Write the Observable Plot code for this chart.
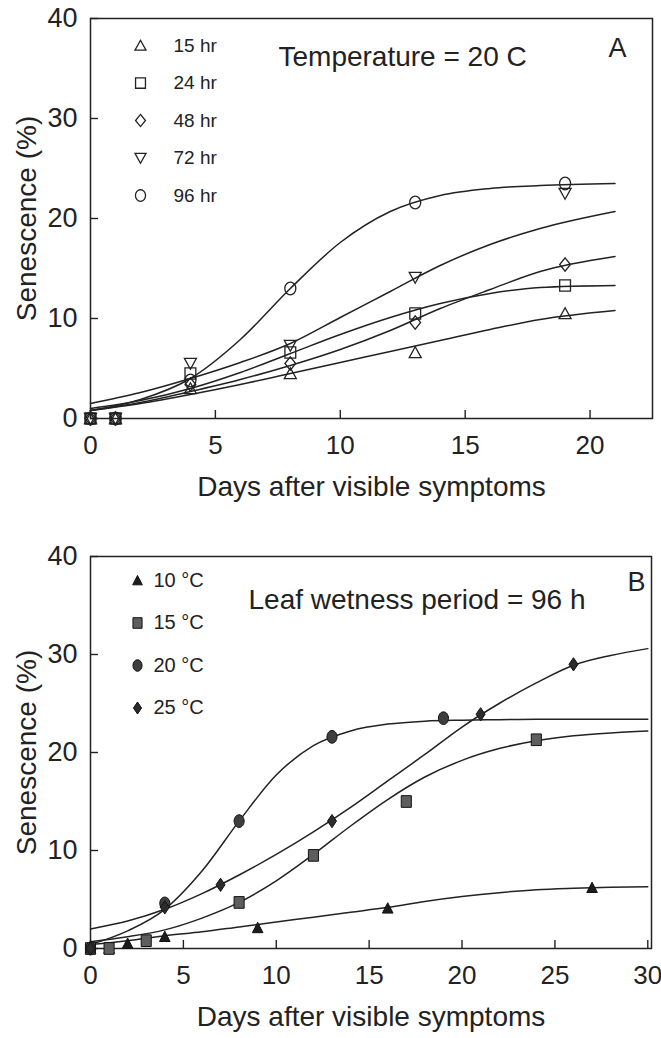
<!DOCTYPE html>
<html>
<head>
<meta charset="utf-8">
<script src="https://cdn.jsdelivr.net/npm/d3@7"></script>
<script src="https://cdn.jsdelivr.net/npm/@observablehq/plot@0.6"></script>
<style>
  html, body { margin: 0; padding: 0; background: #fff; }
  #chart svg { display: block; }
</style>
</head>
<body>
<div id="chart"></div>
<script>
// ---- Panel A: leaf wetness duration, temperature = 20 C ----
const wetnessA = ["15 hr", "24 hr", "48 hr", "72 hr", "96 hr"];
const obsDaysA = [0, 1, 4, 8, 13, 19];
const obs15hr = [0, 0, 3.0, 4.5, 6.6, 10.5];
const obs24hr = [0, 0, 4.5, 6.6, 10.5, 13.3];
const obs48hr = [0, 0, 3.4, 5.5, 9.6, 15.4];
const obs72hr = [0, 0, 5.5, 7.3, 14.1, 22.5];
const obs96hr = [0, 0, 3.8, 13.0, 21.6, 23.5];

const fitDaysA = [0, 2, 4, 6, 8, 10, 12, 14, 16, 18, 21];
const fit15hr = [0.8, 1.5, 2.4, 3.4, 4.5, 5.6, 6.7, 7.8, 8.9, 9.9, 10.8];
const fit24hr = [1.0, 1.8, 3.0, 4.6, 6.5, 8.4, 10.1, 11.5, 12.5, 13.1, 13.3];
const fit48hr = [0.8, 1.6, 2.7, 3.9, 5.3, 6.9, 8.8, 11.0, 12.9, 14.7, 16.2];
const fit72hr = [1.5, 2.6, 4.0, 5.6, 7.5, 10.1, 12.7, 15.3, 17.4, 19.0, 20.7];
const fit96hr = [0.8, 1.9, 4.0, 7.9, 13.0, 17.6, 20.7, 22.3, 23.0, 23.3, 23.5];

const ticksXA = [0, 5, 10, 15, 20];

// ---- Panel B: temperature, leaf wetness period = 96 h ----
const tempsB = ["10 °C", "15 °C", "20 °C", "25 °C"];
const obsDays10C = [0, 1, 2, 4, 9, 16, 27];
const obs10C = [0, 0, 0.5, 1.2, 2.1, 4.1, 6.2];
const obsDays15C = [0, 1, 3, 8, 12, 17, 24];
const obs15C = [0, 0, 0.8, 4.7, 9.5, 15.0, 21.3];
const obsDays20C = [0, 4, 8, 13, 19];
const obs20C = [0, 4.6, 13.0, 21.6, 23.5];
const obsDays25C = [0, 4, 7, 13, 21, 26];
const obs25C = [0, 4.2, 6.5, 13.0, 23.9, 29.0];

const fitDaysB = [0, 2, 4, 6, 8, 10, 12, 14, 16, 18, 20, 22, 24, 26, 28, 30];
const fit10C = [0.4, 0.8, 1.3, 1.7, 2.2, 2.7, 3.2, 3.7, 4.2, 4.8, 5.3, 5.7, 6.0, 6.15, 6.25, 6.3];
const fit15C = [0.7, 1.2, 1.9, 3.1, 4.7, 6.9, 9.6, 12.5, 15.2, 17.5, 19.2, 20.4, 21.2, 21.7, 22.0, 22.2];
const fit20C = [0.4, 1.8, 4.0, 7.9, 13.0, 17.7, 20.7, 22.2, 22.9, 23.2, 23.3, 23.35, 23.4, 23.4, 23.4, 23.4];
const fit25C = [2.0, 2.8, 4.0, 5.6, 7.5, 9.6, 11.9, 14.4, 17.1, 19.8, 22.6, 25.0, 27.1, 28.9, 29.9, 30.6];

const ticksXB = [0, 5, 10, 15, 20, 25, 30];
const ticksY = [0, 10, 20, 30, 40];

// ---- helpers ----
const font = "'Liberation Sans', Arial, Helvetica, sans-serif";
const ink = "#222";

function toRows(series, daysList, valuesList) {
  return series.flatMap((s, i) =>
    daysList[i].map((day, j) => ({series: s, day, value: valuesList[i][j]})));
}

const obsRowsA = toRows(wetnessA, wetnessA.map(() => obsDaysA),
  [obs15hr, obs24hr, obs48hr, obs72hr, obs96hr]);
const fitRowsA = toRows(wetnessA, wetnessA.map(() => fitDaysA),
  [fit15hr, fit24hr, fit48hr, fit72hr, fit96hr]);
const obsRowsB = toRows(tempsB, [obsDays10C, obsDays15C, obsDays20C, obsDays25C],
  [obs10C, obs15C, obs20C, obs25C]);
const fitRowsB = toRows(tempsB, tempsB.map(() => fitDaysB),
  [fit10C, fit15C, fit20C, fit25C]);

// Marker outlines, scaled by the dot radius r
function polygon(points) {
  return {
    draw(ctx, size) {
      const r = Math.sqrt(size / Math.PI);
      points.forEach(([px, py], i) => i ? ctx.lineTo(px * r, py * r) : ctx.moveTo(px * r, py * r));
      ctx.closePath();
    }
  };
}
function ellipse(kx, ky) {
  return {
    draw(ctx, size) {
      const r = Math.sqrt(size / Math.PI), a = kx * r, b = ky * r, k = 0.5523;
      ctx.moveTo(a, 0);
      ctx.bezierCurveTo(a, k * b, k * a, b, 0, b);
      ctx.bezierCurveTo(-k * a, b, -a, k * b, -a, 0);
      ctx.bezierCurveTo(-a, -k * b, -k * a, -b, 0, -b);
      ctx.bezierCurveTo(k * a, -b, a, -k * b, a, 0);
      ctx.closePath();
    }
  };
}
const triUp = polygon([[0, -0.95], [1, 0.85], [-1, 0.85]]);
const triDown = polygon([[0, 0.95], [1, -0.85], [-1, -0.85]]);
const squareA = polygon([[-0.9, -0.95], [0.9, -0.95], [0.9, 0.95], [-0.9, 0.95]]);
const diamondA = polygon([[0, -1.1], [0.9, 0], [0, 1.1], [-0.9, 0]]);
const circleA = ellipse(0.92, 1.05);
const triB = polygon([[0, -1.05], [1, 0.9], [-1, 0.9]]);
const squareB = polygon([[-0.95, -1.1], [0.95, -1.1], [0.95, 1.1], [-0.95, 1.1]]);
const circleB = ellipse(0.95, 1.2);
const diamondB = polygon([[0, -1.25], [0.85, 0], [0, 1.25], [-0.85, 0]]);

const fillB = {"10 °C": "#1c1c1c", "15 °C": "#5e5e5e", "20 °C": "#3e3e3e", "25 °C": "#2c2c2c"};

function commonMarks(xTicks) {
  return [
    Plot.frame({stroke: ink, strokeWidth: 1.5}),
    Plot.axisX({ticks: xTicks, tickSize: -8, tickPadding: 25, fontSize: 26, label: null, stroke: ink, strokeWidth: 1.4}),
    Plot.axisY({ticks: ticksY, tickSize: -8, tickPadding: 21, fontSize: 27, label: null, stroke: ink, strokeWidth: 1.4}),
    Plot.text(["Senescence (%)"], {frameAnchor: "left", dx: -63, rotate: -90, fontSize: 28, textAnchor: "middle", lineAnchor: "middle", text: d => d, fill: ink}),
    Plot.text(["Days after visible symptoms"], {frameAnchor: "bottom", dy: 69, fontSize: 28, textAnchor: "middle", lineAnchor: "middle", text: d => d, fill: ink})
  ];
}

const plotA = Plot.plot({
  width: 661,
  height: 520,
  marginTop: 18,
  marginBottom: 102,
  marginLeft: 90,
  marginRight: 9,
  x: {domain: [0, 22.5]},
  y: {domain: [0, 40]},
  symbol: {domain: wetnessA, range: [triUp, squareA, diamondA, triDown, circleA]},
  style: {fontFamily: font, color: ink, background: "white"},
  marks: [
    ...commonMarks(ticksXA),
    Plot.line(fitRowsA, {x: "day", y: "value", z: "series", curve: "monotone-x", stroke: ink, strokeWidth: 1.5}),
    Plot.dot(obsRowsA, {x: "day", y: "value", symbol: "series", r: 6, stroke: ink, strokeWidth: 1.3, fill: "none"}),
    ...wetnessA.flatMap((s, i) => [
      Plot.dot([s], {frameAnchor: "top-left", dx: 50, dy: 27 + i * 37.5, symbol: d => d, r: 5.5, stroke: ink, strokeWidth: 1.3, fill: "none"}),
      Plot.text([s], {frameAnchor: "top-left", dx: 83, dy: 27 + i * 37.5, text: d => d, textAnchor: "start", lineAnchor: "middle", fontSize: 19, fill: ink})
    ]),
    Plot.text(["Temperature = 20 C"], {frameAnchor: "top-left", dx: 188, dy: 39, text: d => d, textAnchor: "start", lineAnchor: "middle", fontSize: 28, fill: ink}),
    Plot.text(["A"], {frameAnchor: "top-right", dx: -26, dy: 30, text: d => d, textAnchor: "end", lineAnchor: "middle", fontSize: 27, fill: ink})
  ]
});

const plotB = Plot.plot({
  width: 661,
  height: 518,
  marginTop: 36,
  marginBottom: 90,
  marginLeft: 90,
  marginRight: 10,
  x: {domain: [0, 30.2]},
  y: {domain: [0, 40]},
  symbol: {domain: tempsB, range: [triB, squareB, circleB, diamondB]},
  color: {type: "identity"},
  style: {fontFamily: font, color: ink, background: "white"},
  marks: [
    ...commonMarks(ticksXB),
    Plot.line(fitRowsB, {x: "day", y: "value", z: "series", curve: "monotone-x", stroke: ink, strokeWidth: 1.5}),
    Plot.dot(obsRowsB, {x: "day", y: "value", symbol: "series", r: 5.3, stroke: "#111", strokeWidth: 1, fill: d => fillB[d.series]}),
    ...tempsB.flatMap((s, i) => [
      Plot.dot([s], {frameAnchor: "top-left", dx: 47, dy: 24 + i * 42.5, symbol: d => d, r: 4.8, stroke: "#111", strokeWidth: 1, fill: d => fillB[d]}),
      Plot.text([s], {frameAnchor: "top-left", dx: 63, dy: 24 + i * 42.5, text: d => d, textAnchor: "start", lineAnchor: "middle", fontSize: 20, fill: ink})
    ]),
    Plot.text(["Leaf wetness period = 96 h"], {frameAnchor: "top-left", dx: 158, dy: 44, text: d => d, textAnchor: "start", lineAnchor: "middle", fontSize: 28, fill: ink}),
    Plot.text(["B"], {frameAnchor: "top-right", dx: -6, dy: 26, text: d => d, textAnchor: "end", lineAnchor: "middle", fontSize: 27, fill: ink})
  ]
});

const chart = document.getElementById("chart");
chart.append(plotA, plotB);
</script>
</body>
</html>
